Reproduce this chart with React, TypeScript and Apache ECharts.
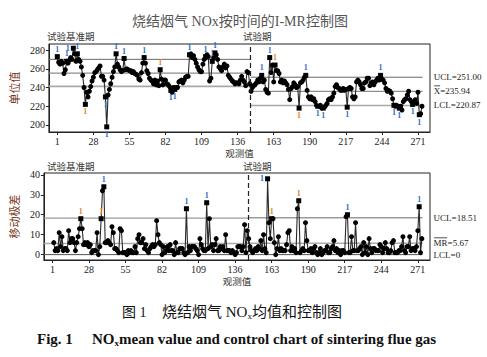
import React, { useEffect, useRef } from "react";
import * as echarts from "echarts";

// ---------- data ----------
const obsTicks = [1, 28, 55, 82, 109, 136, 163, 190, 217, 244, 271];
const iTicks = [200, 220, 240, 260, 280];
const mrTicks = [0, 10, 20, 30, 40];

// Individual values, baseline period (obs 1..145)
const baselineValues = [
  273, 267, 265, 268, 266, 255, 259, 268, 266, 269,
  272, 270, 282, 276, 268, 276, 270, 268, 262, 253,
  240, 222, 235, 230, 236, 241, 247, 251, 256, 257,
  259, 261, 263, 252, 252, 248, 230, 198, 232, 238,
  244, 251, 257, 262, 276, 265, 262, 259, 257, 258,
  271, 259, 260, 259, 258, 258, 256, 257, 255, 254,
  253, 249, 248, 256, 266, 272, 266, 258, 255, 250,
  248, 247, 244, 248, 243, 247, 242, 259, 249, 243,
  248, 248, 244, 243, 241, 237, 235, 240, 238, 240,
  240, 246, 247, 248, 245, 248, 251, 252, 252, 275,
  276, 272, 274, 270, 266, 262, 259, 257, 257, 265,
  270, 273, 275, 273, 247, 250, 268, 272, 277, 275,
  270, 262, 260, 258, 262, 265, 261, 263, 253, 251,
  249, 247, 246, 244, 245, 245, 244, 248, 252, 248,
  246, 242, 257, 256, 244,
];
// Individual values, trial period (obs 146..274)
const trialValues = [
  236, 240, 242, 243, 245, 248, 246, 250, 253, 246,
  248, 238, 235, 234, 272, 256, 264, 246, 264, 258,
  258, 255, 246, 248, 245, 247, 245, 243, 238, 227,
  239, 241, 245, 243, 240, 241, 218, 245, 246, 248,
  251, 253, 237, 230, 228, 230, 227, 228, 225, 221,
  220, 220, 221, 218, 218, 219, 221, 223, 227, 228,
  227, 230, 234, 241, 243, 240, 239, 237, 237, 239,
  237, 238, 219, 239, 240, 239, 230, 228, 230, 246,
  248, 246, 243, 239, 239, 245, 246, 250, 250, 242,
  245, 246, 243, 246, 248, 250, 248, 253, 249, 248,
  245, 239, 236, 237, 236, 234, 228, 221, 220, 221,
  220, 218, 220, 216, 225, 227, 228, 232, 236, 227,
  225, 222, 225, 227, 223, 235, 211, 212, 220,
];
// Moving ranges, baseline period
const baselineMR = [
  null, 6, 2, 3, 2, 11, 4, 9, 2, 3,
  3, 2, 12, 6, 8, 8, 6, 2, 6, 9,
  13, 18, 13, 5, 6, 5, 6, 4, 5, 1,
  2, 2, 2, 11, 0, 4, 18, 32, 34, 6,
  6, 7, 6, 5, 14, 11, 3, 3, 2, 1,
  13, 12, 1, 1, 1, 0, 2, 1, 2, 1,
  1, 4, 1, 8, 10, 6, 6, 8, 3, 5,
  2, 1, 3, 4, 5, 4, 5, 17, 10, 6,
  5, 0, 4, 1, 2, 4, 2, 5, 2, 2,
  0, 6, 1, 1, 3, 3, 3, 1, 0, 23,
  1, 4, 2, 4, 4, 4, 3, 2, 0, 8,
  5, 3, 2, 2, 26, 3, 18, 4, 5, 2,
  5, 8, 2, 2, 4, 3, 4, 2, 10, 2,
  2, 2, 1, 2, 1, 0, 1, 4, 4, 4,
  2, 4, 15, 1, 12,
];
// Moving ranges, trial period
const trialMR = [
  8, 4, 2, 1, 2, 3, 2, 4, 3, 7,
  2, 10, 3, 1, 38, 16, 8, 18, 18, 6,
  0, 3, 9, 2, 3, 2, 2, 2, 5, 11,
  12, 2, 4, 2, 3, 1, 23, 27, 1, 2,
  3, 2, 16, 7, 2, 2, 3, 1, 3, 4,
  1, 0, 1, 3, 0, 1, 2, 2, 4, 1,
  1, 3, 4, 7, 2, 3, 1, 2, 0, 2,
  2, 1, 19, 20, 1, 1, 9, 2, 2, 16,
  2, 2, 3, 4, 0, 6, 1, 4, 0, 8,
  3, 1, 3, 3, 2, 2, 2, 5, 4, 1,
  3, 6, 3, 1, 1, 2, 6, 7, 1, 1,
  1, 2, 2, 4, 9, 2, 1, 4, 4, 9,
  2, 3, 3, 2, 4, 12, 24, 1, 8,
];

// control limits [UCL, centre, LCL]
const iLimitsBaseline = [270.1, 255.4, 241.2];
const iLimitsTrial = [251.0, 235.94, 220.87];
const mrLimitsBaseline = [18.3, 5.6, 0];
const mrLimitsTrial = [18.51, 5.67, 0];

const phaseSplit = 145.7;
const trialEnd = 274.5;
const xMin = -5.3;
const xMax = 280;

// out-of-control flags ("1")
const iFlagsBlue = [1, 8, 13, 16, 37, 38, 45, 51, 66, 86, 89, 100, 112, 117, 119, 154, 160, 187, 196, 200, 218, 243, 253, 257, 267, 272];
const iFlagsOrange = [22, 78, 164, 182];
const mrFlagsBlue = [39, 100, 115, 160, 219, 272];
const mrFlagsOrange = [22, 37, 163, 183];

const limitNamesI = ["UCL", "X", "LCL"];
const limitNamesMR = ["UCL", "MR", "LCL"];

// ---------- styling ----------
const SERIF = "'Liberation Serif', 'DejaVu Serif', serif";
const MIXED = "'Liberation Serif', 'Noto Sans CJK SC', serif";
const CJK = "'Noto Sans CJK SC', sans-serif";
const BLUE = "#2e6cc4";
const ORANGE = "#e0862a";
const LABEL_GAP = 11;
// flag labels that sit beside their point instead of above it (crowded top edge)
const sideLabelLeft = [13];

export default function App() {
  const ref = useRef<HTMLDivElement>(null);

  useEffect(() => {
    if (!ref.current) return;
    const chart = echarts.init(ref.current, undefined, { renderer: "svg" });

    const allI = [...baselineValues, ...trialValues];
    const allMR = [...baselineMR, ...trialMR];
    const nBase = baselineValues.length;

    const flagColor = (obs: number, blue: number[], orange: number[]) =>
      blue.includes(obs) ? BLUE : orange.includes(obs) ? ORANGE : null;

    const flagLabel = (c: string, position: string) => ({
      show: true,
      formatter: "1",
      position,
      distance: 1,
      color: c,
      fontSize: 8,
      lineHeight: 8,
      fontFamily: SERIF,
      fontWeight: "bold",
    });

    const iData = allI.map((v, k) => {
      const obs = k + 1;
      const c = flagColor(obs, iFlagsBlue, iFlagsOrange);
      const centre = obs <= nBase ? iLimitsBaseline[1] : iLimitsTrial[1];
      const item: any = { value: [obs, v], symbol: c ? "rect" : "circle" };
      if (c) {
        const pos = sideLabelLeft.includes(obs) ? "left" : v >= centre ? "top" : "bottom";
        item.label = flagLabel(c, pos);
      }
      return item;
    });

    const mrData = allMR.map((v, k) => {
      const obs = k + 1;
      if (v === null) return { value: [obs, null] };
      const c = flagColor(obs, mrFlagsBlue, mrFlagsOrange);
      const item: any = { value: [obs, v], symbol: c ? "rect" : "circle" };
      if (c) item.label = flagLabel(c, v > 36 ? "left" : "top");
      return item;
    });

    const iLineStyles = [
      { color: "#6a6a6a", width: 1 },
      { color: "#8e8e8e", width: 1.2 },
      { color: "#a9a9a9", width: 1.6 },
    ];
    const mrLineStyles = [
      { color: "#9a9a9a", width: 1.4 },
      { color: "#ababab", width: 1.6 },
      { color: "#555555", width: 1 },
    ];

    const limitSeries = (
      axis: number,
      base: number[],
      trial: number[],
      names: string[],
      styles: any[]
    ) => {
      const out: any[] = [];
      base.forEach((v, i) => {
        out.push({
          type: "line",
          xAxisIndex: axis,
          yAxisIndex: axis,
          data: [[xMin, v], [phaseSplit, v]],
          symbol: "none",
          silent: true,
          lineStyle: styles[i],
          z: 1,
        });
      });
      trial.forEach((v, i) => {
        const t = v === 0 ? "0" : v.toFixed(2);
        out.push({
          type: "line",
          xAxisIndex: axis,
          yAxisIndex: axis,
          data: [[phaseSplit, v], [trialEnd, v]],
          symbol: "none",
          silent: true,
          lineStyle: styles[i],
          z: 1,
          endLabel: {
            show: true,
            formatter: `${names[i]}=${t}`,
            distance: LABEL_GAP,
            color: "#222",
            fontSize: 9,
            fontFamily: SERIF,
          },
        });
      });
      return out;
    };

    const xAxisCommon = (idx: number) => ({
      type: "value",
      gridIndex: idx,
      min: xMin,
      max: xMax,
      name: "观测值",
      nameLocation: "middle",
      nameGap: 16,
      nameTextStyle: { fontFamily: CJK, fontSize: 9.5, color: "#333" },
      axisLine: { show: true, onZero: false, lineStyle: { color: "#222", width: 1 } },
      axisTick: { show: true, customValues: obsTicks, length: 3, lineStyle: { color: "#222" } },
      axisLabel: { customValues: obsTicks, fontFamily: SERIF, fontSize: 10, color: "#222", margin: 4 },
      splitLine: { show: false },
    });

    const yAxisCommon = (idx: number, min: number, max: number, ticks: number[], name: string) => ({
      type: "value",
      gridIndex: idx,
      min,
      max,
      name,
      nameLocation: "middle",
      nameRotate: 90,
      nameGap: 21,
      nameTextStyle: { fontFamily: CJK, fontSize: 11, color: "#7a3a1c" },
      axisLine: { show: true, onZero: false, lineStyle: { color: "#222", width: 1 } },
      axisTick: { show: true, customValues: ticks, length: 3, lineStyle: { color: "#222" } },
      axisLabel: { customValues: ticks, fontFamily: SERIF, fontSize: 10, color: "#222", margin: 4 },
      splitLine: { show: false },
    });

    const txt = (text: string, x: number, y: number, extra: any = {}) => ({
      type: "text",
      x,
      y,
      silent: true,
      style: {
        text,
        fill: "#333",
        fontSize: 9.5,
        fontFamily: CJK,
        align: "left",
        verticalAlign: "middle",
        ...extra,
      },
    });

    const baseGraphics: any[] = [
      txt("烧结烟气 NOx按时间的I-MR控制图", 240, 21, { align: "center", fontSize: 14, fill: "#555", fontFamily: MIXED }),
      txt("试验基准期", 47, 35.5),
      txt("试验期", 243, 35.5),
      txt("试验基准期", 47, 166),
      txt("试验期", 243, 166),
      txt("图 1", 122, 312, { fontSize: 14, fill: "#111", fontFamily: MIXED }),
      txt("烧结烟气 NO{s|x}均值和控制图", 162, 312, {
        fontSize: 15,
        fill: "#111",
        fontFamily: MIXED,
        rich: { s: { fontSize: 9, fontFamily: SERIF, fill: "#111", padding: [8, 0, 0, 0] } },
      }),
      txt("Fig. 1", 37, 339, { fontSize: 15, fill: "#111", fontFamily: SERIF, fontWeight: "bold" }),
      txt("NO{s|x}mean value and control chart of sintering flue gas", 92, 339, {
        fontSize: 15,
        fill: "#111",
        fontFamily: SERIF,
        fontWeight: "bold",
        rich: { s: { fontSize: 9, fontFamily: SERIF, fontWeight: "bold", fill: "#111", padding: [8, 0, 0, 0] } },
      }),
    ];

    chart.setOption({
      animation: false,
      backgroundColor: "#ffffff",
      grid: [
        { left: 38, top: 44, width: 392, height: 88, show: true, borderColor: "#222", borderWidth: 1, containLabel: false },
        { left: 38, top: 173, width: 392, height: 87, show: true, borderColor: "#222", borderWidth: 1, containLabel: false },
      ],
      xAxis: [xAxisCommon(0), xAxisCommon(1)],
      yAxis: [
        yAxisCommon(0, 192.5, 286.5, iTicks, "单位值"),
        yAxisCommon(1, -2.7, 40.9, mrTicks, "移动极差"),
      ],
      series: [
        ...limitSeries(0, iLimitsBaseline, iLimitsTrial, limitNamesI, iLineStyles),
        ...limitSeries(1, mrLimitsBaseline, mrLimitsTrial, limitNamesMR, mrLineStyles),
        {
          type: "line",
          xAxisIndex: 0,
          yAxisIndex: 0,
          data: iData,
          symbolSize: 5,
          itemStyle: { color: "#000" },
          lineStyle: { color: "#2a2a2a", width: 1.1 },
          z: 3,
          markLine: {
            silent: true,
            symbol: ["none", "none"],
            label: { show: false },
            lineStyle: { type: [5, 3], color: "#222", width: 1.2 },
            data: [{ xAxis: phaseSplit }],
          },
        },
        {
          type: "line",
          xAxisIndex: 1,
          yAxisIndex: 1,
          data: mrData,
          symbolSize: 5,
          itemStyle: { color: "#000" },
          lineStyle: { color: "#2a2a2a", width: 1.1 },
          z: 3,
          markLine: {
            silent: true,
            symbol: ["none", "none"],
            label: { show: false },
            lineStyle: { type: [5, 3], color: "#222", width: 1.2 },
            data: [{ xAxis: phaseSplit }],
          },
        },
      ],
      graphic: baseGraphics,
    });

    // overlines for the centre-line labels (X-bar and MR-bar)
    const pI = chart.convertToPixel({ gridIndex: 0 }, [trialEnd, iLimitsTrial[1]]) as number[];
    const pM = chart.convertToPixel({ gridIndex: 1 }, [trialEnd, mrLimitsTrial[1]]) as number[];
    const bar = (x1: number, x2: number, y: number) => ({
      type: "line",
      silent: true,
      shape: { x1, y1: y, x2, y2: y },
      style: { stroke: "#222", lineWidth: 0.8 },
    });
    chart.setOption({
      graphic: [
        ...baseGraphics,
        bar(pI[0] + LABEL_GAP + 0.5, pI[0] + LABEL_GAP + 6.5, pI[1] - 5.5),
        bar(pM[0] + LABEL_GAP + 0.5, pM[0] + LABEL_GAP + 13.5, pM[1] - 5.5),
      ],
    });

    return () => chart.dispose();
  }, []);

  return (
    <div
      ref={ref}
      style={{ position: "absolute", left: 0, top: 0, width: 487, height: 357, background: "#fff" }}
    />
  );
}
